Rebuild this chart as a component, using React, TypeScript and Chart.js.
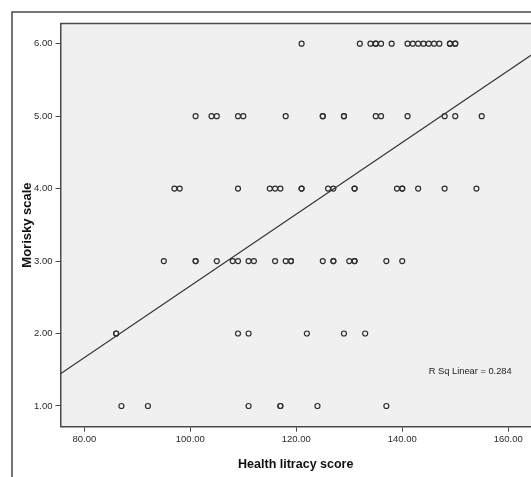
import React, { useEffect, useRef } from "react";
import { Chart, registerables } from "chart.js";

Chart.register(...registerables);

// Tick values
const xTickValues = [80, 100, 120, 140, 160];
const yTickValues = [1, 2, 3, 4, 5, 6];

// Health literacy scores observed at each Morisky scale level
const scoresMorisky1 = [87, 92, 111, 117, 117, 124, 137];
const scoresMorisky2 = [86, 86, 109, 111, 122, 129, 133];
const scoresMorisky3 = [95, 101, 101, 105, 108, 109, 111, 112, 116, 118, 119, 119, 125, 127, 127, 130, 131, 131, 137, 140];
const scoresMorisky4 = [97, 98, 109, 115, 116, 117, 121, 121, 126, 127, 131, 131, 139, 140, 140, 143, 148, 154];
const scoresMorisky5 = [101, 104, 105, 109, 110, 118, 125, 125, 129, 129, 135, 136, 141, 148, 150, 155];
const scoresMorisky6 = [121, 132, 134, 135, 135, 136, 138, 141, 142, 143, 144, 145, 146, 147, 149, 149, 150, 150];
const moriskyLevels = [1, 2, 3, 4, 5, 6];

// Linear fit
const fitIntercept = -2.293;
const fitSlope = 0.0495;
const rSquared = 0.284;

// Axis bounds
const xMin = 75.5;
const xMax = 164.3;
const yMin = 0.714;
const yMax = 6.28;

const FONT = "'Liberation Sans', Arial, Helvetica, sans-serif";

export default function App() {
  const canvasRef = useRef<HTMLCanvasElement | null>(null);

  useEffect(() => {
    const canvas = canvasRef.current;
    if (!canvas) return;

    const groups = [scoresMorisky1, scoresMorisky2, scoresMorisky3, scoresMorisky4, scoresMorisky5, scoresMorisky6];
    const points: { x: number; y: number }[] = [];
    groups.forEach((g, i) => g.forEach((s) => points.push({ x: s, y: moriskyLevels[i] })));

    const fitLine = [
      { x: xMin, y: fitIntercept + fitSlope * xMin },
      { x: xMax, y: fitIntercept + fitSlope * xMax },
    ];

    const spssPlugin = {
      id: "spssFrame",
      beforeDraw(chart: any) {
        const { ctx, chartArea: a, width, height } = chart;
        ctx.save();
        ctx.fillStyle = "#ffffff";
        ctx.fillRect(0, 0, width, height);
        ctx.strokeStyle = "#4a4a4a";
        ctx.lineWidth = 1.5;
        ctx.beginPath();
        ctx.moveTo(12, height + 5);
        ctx.lineTo(12, 12);
        ctx.lineTo(width + 5, 12);
        ctx.stroke();
        ctx.fillStyle = "#f0f0f0";
        ctx.fillRect(a.left, a.top, width + 5 - a.left, a.bottom - a.top);
        ctx.restore();
      },
      afterDraw(chart: any) {
        const { ctx, chartArea: a, scales, width } = chart;
        ctx.save();
        ctx.strokeStyle = "#4a4a4a";
        ctx.lineWidth = 1.5;
        ctx.beginPath();
        ctx.moveTo(a.left, a.top);
        ctx.lineTo(width + 5, a.top);
        ctx.stroke();
        ctx.fillStyle = "#222";
        ctx.font = `9.3px ${FONT}`;
        ctx.textAlign = "left";
        ctx.textBaseline = "middle";
        const tx = scales.x.getPixelForValue(145.0);
        const ty = scales.y.getPixelForValue(1.476);
        ctx.fillText(`R Sq Linear = ${rSquared.toFixed(3)}`, tx, ty);
        ctx.restore();
      },
    };

    const chart = new Chart(canvas, {
      type: "scatter",
      data: {
        datasets: [
          {
            label: "Observed",
            data: points,
            pointStyle: "circle",
            pointRadius: 2.5,
            pointHoverRadius: 2.5,
            pointBorderWidth: 1.2,
            borderColor: "#2e2e2e",
            backgroundColor: "rgba(0,0,0,0)",
          },
          {
            label: "Linear",
            data: fitLine,
            showLine: true,
            pointRadius: 0,
            borderColor: "#333",
            borderWidth: 1.1,
          },
        ],
      },
      options: {
        responsive: false,
        animation: false,
        devicePixelRatio: 1,
        layout: { autoPadding: false, padding: { top: 23.4, left: 0, right: 0, bottom: 0 } },
        plugins: {
          legend: { display: false },
          tooltip: { enabled: false },
        },
        scales: {
          x: {
            type: "linear",
            min: xMin,
            max: xMax,
            afterBuildTicks: (s: any) => {
              s.ticks = xTickValues.map((v) => ({ value: v }));
            },
            afterFit: (s: any) => {
              s.height = 50.3;
              s.paddingLeft = 0;
              s.paddingRight = 0;
            },
            grid: { drawOnChartArea: false, drawTicks: true, tickLength: 5, tickColor: "#4a4a4a", tickWidth: 1 },
            border: { display: true, color: "#4a4a4a", width: 1.5 },
            ticks: {
              padding: 2,
              color: "#2a2a2a",
              font: { family: FONT, size: 9.5 },
              maxRotation: 0,
              callback: (v: any) => Number(v).toFixed(2),
            },
            title: {
              display: true,
              text: "Health litracy score",
              color: "#111",
              font: { family: FONT, size: 12.5, weight: "bold" },
              padding: { top: 0, bottom: 4.5 },
            },
          },
          y: {
            type: "linear",
            min: yMin,
            max: yMax,
            afterBuildTicks: (s: any) => {
              s.ticks = yTickValues.map((v) => ({ value: v }));
            },
            afterFit: (s: any) => {
              s.width = 60.5;
              s.paddingTop = 0;
              s.paddingBottom = 0;
            },
            grid: { drawOnChartArea: false, drawTicks: true, tickLength: 5, tickColor: "#4a4a4a", tickWidth: 1 },
            border: { display: true, color: "#4a4a4a", width: 1.5 },
            ticks: {
              padding: 3,
              color: "#2a2a2a",
              font: { family: FONT, size: 9.5 },
              callback: (v: any) => Number(v).toFixed(2),
            },
            title: {
              display: true,
              text: "Morisky scale",
              color: "#111",
              font: { family: FONT, size: 13, weight: "bold" },
              padding: { top: 19.2, bottom: 0 },
            },
          },
        },
      },
      plugins: [spssPlugin],
    });

    return () => chart.destroy();
  }, []);

  return (
    <div style={{ position: "fixed", left: 0, top: 0, width: 531, height: 477, overflow: "hidden", background: "#fff" }}>
      <canvas ref={canvasRef} width={531} height={477} style={{ width: 531, height: 477, display: "block" }} />
    </div>
  );
}
